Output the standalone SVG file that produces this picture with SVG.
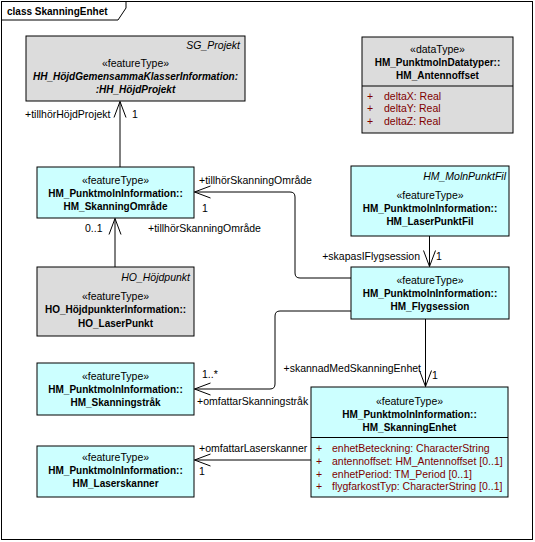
<svg xmlns="http://www.w3.org/2000/svg" width="535" height="542" viewBox="0 0 535 542">
<style>
text{font-family:"Liberation Sans",Arial,sans-serif;font-size:10.5px;fill:#000}
.b{font-weight:bold;font-size:10px}
.bi{font-weight:bold;font-style:italic;font-size:10px}
.it{font-style:italic;font-size:10.5px}
.c{text-anchor:middle}
.r{text-anchor:end}
.attr{fill:#800000}
.box{stroke:#000;stroke-width:1}
.cyan{fill:#CCFFFF}
.gray{fill:#DCDCDC}
.ln{fill:none;stroke:#000;stroke-width:1}
</style>
<defs>
<marker id="open" viewBox="0 0 18 14" refX="17" refY="7" markerWidth="18" markerHeight="14" markerUnits="userSpaceOnUse" orient="auto">
<path d="M1,1 L17,7 L1,13" fill="none" stroke="#000" stroke-width="1"/>
</marker>
</defs>
<rect x="1.5" y="1.5" width="531" height="538" fill="#fff" stroke="#000" stroke-width="1"/>
<g id="frame-title">
<path d="M1.5,20 H118 L126,8 V1.5" fill="none" stroke="#000" stroke-width="1"/>
<text x="7" y="15" class="b">class SkanningEnhet</text>
</g>

<g id="connectors">
<path class="ln" d="M120,167 V101.5" marker-end="url(#open)"/>
<path class="ln" d="M115,267 V218.5" marker-end="url(#open)"/>
<path class="ln" d="M351,278 H300 Q295,278 295,273 V197 Q295,192 290,192 H194.5" marker-end="url(#open)"/>
<path class="ln" d="M429.5,236 V266.5" marker-end="url(#open)"/>
<path class="ln" d="M351,311 H280 Q275,311 275,316 V384 Q275,389 270,389 H194.5" marker-end="url(#open)"/>
<path class="ln" d="M425.5,319 V386.5" marker-end="url(#open)"/>
<path class="ln" d="M311,460 H194.5" marker-end="url(#open)"/>
<text x="25" y="117.5">+tillhörHöjdProjekt</text>
<text x="132" y="117.5">1</text>
<text x="199" y="184">+tillhörSkanningOmråde</text>
<text x="202" y="212">1</text>
<text x="85" y="232">0..1</text>
<text x="148" y="232">+tillhörSkanningOmråde</text>
<text x="420" y="260" class="r">+skapasIFlygsession</text>
<text x="436" y="260">1</text>
<text x="421" y="372" class="r">+skannadMedSkanningEnhet</text>
<text x="432" y="378.5">1</text>
<text x="202" y="377.5">1..*</text>
<text x="197" y="405">+omfattarSkanningstråk</text>
<text x="199" y="452">+omfattarLaserskanner</text>
<text x="199" y="475">1</text>
</g>

<g id="SG_Projekt">
<rect x="26" y="36" width="219" height="65" class="box gray"/>
<text x="240" y="48.5" class="it r">SG_Projekt</text>
<text x="135.5" y="66.5" class="c">«featureType»</text>
<text x="135.5" y="80" class="bi c">HH_HöjdGemensammaKlasserInformation:</text>
<text x="135.5" y="93" class="bi c">:HH_HöjdProjekt</text>
</g>

<g id="HM_Antennoffset">
<rect x="362" y="37" width="151" height="96" class="box gray"/>
<line x1="362" y1="86" x2="513" y2="86" stroke="#000"/>
<text x="437.5" y="52.5" class="c">«dataType»</text>
<text x="437.5" y="65.5" class="b c">HM_PunktmolnDatatyper::</text>
<text x="437.5" y="78.5" class="b c">HM_Antennoffset</text>
<text x="367" y="99.5" class="attr">+</text>
<text x="384" y="99.5" class="attr">deltaX: Real</text>
<text x="367" y="112" class="attr">+</text>
<text x="384" y="112" class="attr">deltaY: Real</text>
<text x="367" y="125" class="attr">+</text>
<text x="384" y="125" class="attr">deltaZ: Real</text>
</g>

<g id="HM_SkanningOmrade">
<rect x="37" y="167" width="157" height="51" class="box cyan"/>
<text x="115.5" y="183.5" class="c">«featureType»</text>
<text x="115.5" y="196.5" class="b c">HM_PunktmolnInformation::</text>
<text x="115.5" y="209.5" class="b c">HM_SkanningOmråde</text>
</g>

<g id="HO_LaserPunkt">
<rect x="37" y="267" width="157" height="69" class="box gray"/>
<text x="190" y="281" class="it r">HO_Höjdpunkt</text>
<text x="115.5" y="299.5" class="c">«featureType»</text>
<text x="115.5" y="313" class="b c">HO_HöjdpunkterInformation::</text>
<text x="115.5" y="326.5" class="b c">HO_LaserPunkt</text>
</g>

<g id="HM_LaserPunktFil">
<rect x="351" y="166" width="158" height="70" class="box cyan"/>
<text x="506" y="179.5" class="it r">HM_MolnPunktFil</text>
<text x="430" y="198.5" class="c">«featureType»</text>
<text x="430" y="211.5" class="b c">HM_PunktmolnInformation::</text>
<text x="430" y="224.5" class="b c">HM_LaserPunktFil</text>
</g>

<g id="HM_Flygsession">
<rect x="351" y="267" width="158" height="52" class="box cyan"/>
<text x="430" y="284" class="c">«featureType»</text>
<text x="430" y="297" class="b c">HM_PunktmolnInformation::</text>
<text x="430" y="310" class="b c">HM_Flygsession</text>
</g>

<g id="HM_Skanningstrak">
<rect x="37" y="363" width="157" height="52" class="box cyan"/>
<text x="115.5" y="380" class="c">«featureType»</text>
<text x="115.5" y="393" class="b c">HM_PunktmolnInformation::</text>
<text x="115.5" y="405.5" class="b c">HM_Skanningstråk</text>
</g>

<g id="HM_Laserskanner">
<rect x="37" y="446" width="157" height="51" class="box cyan"/>
<text x="115.5" y="461" class="c">«featureType»</text>
<text x="115.5" y="474" class="b c">HM_PunktmolnInformation::</text>
<text x="115.5" y="487" class="b c">HM_Laserskanner</text>
</g>

<g id="HM_SkanningEnhet">
<rect x="311" y="387" width="197" height="110" class="box cyan"/>
<line x1="311" y1="437.5" x2="508" y2="437.5" stroke="#000"/>
<text x="409.5" y="405" class="c">«featureType»</text>
<text x="409.5" y="417.5" class="b c">HM_PunktmolnInformation::</text>
<text x="409.5" y="430.5" class="b c">HM_SkanningEnhet</text>
<text x="316" y="452" class="attr">+</text>
<text x="332" y="452" class="attr">enhetBeteckning: CharacterString</text>
<text x="316" y="464.5" class="attr">+</text>
<text x="332" y="464.5" class="attr">antennoffset: HM_Antennoffset [0..1]</text>
<text x="316" y="477.5" class="attr">+</text>
<text x="332" y="477.5" class="attr">enhetPeriod: TM_Period [0..1]</text>
<text x="316" y="490" class="attr">+</text>
<text x="332" y="490" class="attr">flygfarkostTyp: CharacterString [0..1]</text>
</g>
</svg>
